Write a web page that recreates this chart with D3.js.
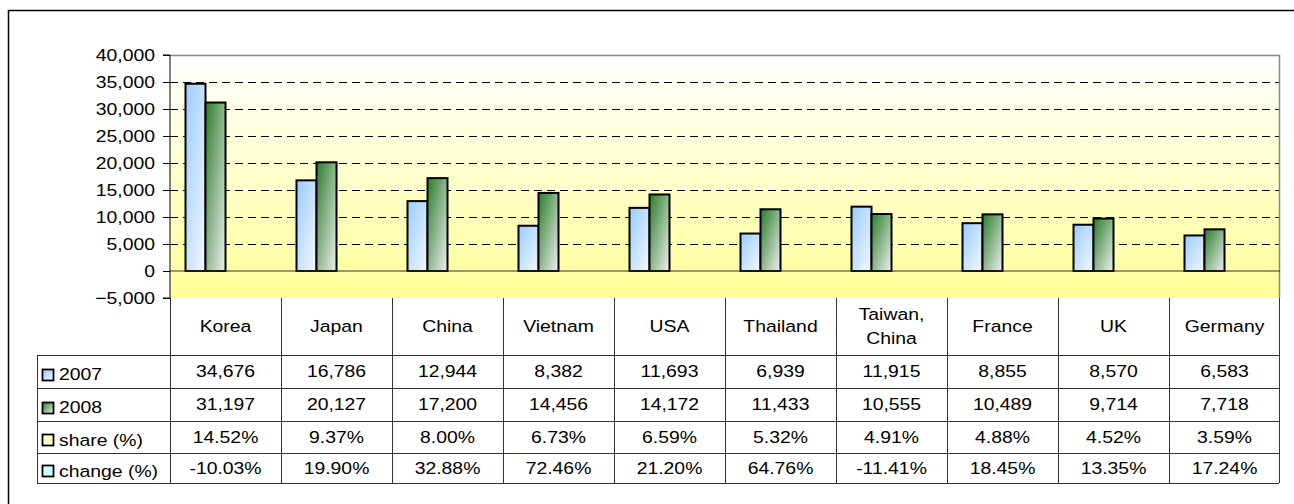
<!DOCTYPE html>
<html>
<head>
<meta charset="utf-8">
<script src="https://cdn.jsdelivr.net/npm/d3@7"></script>
<style>
  body { margin: 0; background: #fff; }
  text { font-family: Arial, "Liberation Sans", sans-serif; fill: #000; }
</style>
</head>
<body>
<div id="chart"></div>
<script>
// ---- data ----
const countries = ["Korea", "Japan", "China", "Vietnam", "USA", "Thailand", "Taiwan,\nChina", "France", "UK", "Germany"];
const v2007 = [34676, 16786, 12944, 8382, 11693, 6939, 11915, 8855, 8570, 6583];
const v2008 = [31197, 20127, 17200, 14456, 14172, 11433, 10555, 10489, 9714, 7718];
const share = [14.52, 9.37, 8.00, 6.73, 6.59, 5.32, 4.91, 4.88, 4.52, 3.59];
const change = [-10.03, 19.90, 32.88, 72.46, 21.20, 64.76, -11.41, 18.45, 13.35, 17.24];
const seriesNames = ["2007", "2008", "share (%)", "change (%)"];
const yTicks = [-5000, 0, 5000, 10000, 15000, 20000, 25000, 30000, 35000, 40000];

const W = 1294, H = 504;
const pLeft = 170, pRight = 1280, pTop = 55, pBottom = 298;
const rowY = [298, 355, 388, 421, 453, 483];
const legendLeft = 37;
const FS = 17, SX = 1.14; // picture is a bit stretched sideways

const svg = d3.select("#chart").append("svg").attr("width", W).attr("height", H);
const defs = svg.append("defs");

// gradients
const bgGrad = defs.append("linearGradient").attr("id", "bg").attr("x1", 0).attr("y1", 0).attr("x2", 0).attr("y2", 1);
bgGrad.append("stop").attr("offset", "0%").attr("stop-color", "#ffffff");
bgGrad.append("stop").attr("offset", "100%").attr("stop-color", "#ffff99");

function diag(id, c1, c2) {
  const g = defs.append("linearGradient").attr("id", id).attr("x1", 0).attr("y1", 0).attr("x2", 1).attr("y2", 1);
  g.append("stop").attr("offset", "0%").attr("stop-color", c1);
  g.append("stop").attr("offset", "100%").attr("stop-color", c2);
}
diag("g2007", "#99ccff", "#f4f8ff");
diag("g2008", "#2a7d2a", "#f0f0f0");
const fills = ["url(#g2007)", "url(#g2008)", "#ffffcc", "#ccffff"];

// scales
const x = d3.scaleBand().domain(countries).range([pLeft, pRight]);
const xs = d3.scaleBand().domain(seriesNames).range([0, 80]);
const y = d3.scaleLinear().domain([-5000, 40000]).range([pBottom, pTop]);

// outer frame
svg.append("path").attr("d", `M8.5,${H}V10.5H${W}`).attr("fill", "none").attr("stroke", "#000").attr("stroke-width", 1.5);

// plot background
svg.append("rect").attr("x", pLeft).attr("y", pTop).attr("width", pRight - pLeft).attr("height", pBottom - pTop).attr("fill", "url(#bg)");

// gridlines
svg.append("g").selectAll("line").data(yTicks.filter(t => t > 0)).join("line")
  .attr("x1", pLeft).attr("x2", pRight)
  .attr("y1", d => Math.round(y(d)) + 0.5).attr("y2", d => Math.round(y(d)) + 0.5)
  .attr("stroke", "#000").attr("stroke-dasharray", "8,5");

// plot border (top & right)
svg.append("path").attr("d", `M${pLeft},${pTop + 0.5}H${pRight - 0.5}V${pBottom}`).attr("fill", "none").attr("stroke", "#888").attr("stroke-width", 1.5);

// bars
const allSeries = [v2007, v2008, share, change];
const barG = svg.append("g");
countries.forEach((c, i) => {
  allSeries.forEach((vals, s) => {
    const v = vals[i];
    if (Math.abs(y(v) - y(0)) < 1) return; // too small to show
    barG.append("rect")
      .attr("x", x(c) + (x.bandwidth() - 80) / 2 + xs(seriesNames[s]))
      .attr("y", Math.min(y(v), y(0)))
      .attr("width", xs.bandwidth())
      .attr("height", Math.abs(y(v) - y(0)))
      .attr("fill", fills[s]).attr("stroke", "#000").attr("stroke-width", 2);
  });
});

// zero line
svg.append("line").attr("x1", pLeft).attr("x2", pRight).attr("y1", y(0)).attr("y2", y(0)).attr("stroke", "#333").attr("stroke-width", 1);

// y axis
const yAxis = d3.axisLeft(y).tickValues(yTicks).tickFormat(d3.format(",")).tickSize(7).tickPadding(0);
const ya = svg.append("g").attr("transform", `translate(${pLeft},0)`).call(yAxis);
ya.select(".domain").attr("stroke", "#000").attr("d", `M-7,${pTop}H0V${pBottom}H-7`);
ya.selectAll(".tick line").attr("stroke", "#000");
ya.selectAll(".tick text").remove();
ya.selectAll(".tick").append("text")
  .attr("transform", `translate(-15,0) scale(${SX},1)`)
  .attr("text-anchor", "end").attr("dy", "0.35em")
  .style("font-size", FS + "px").style("fill", "#000")
  .text(d => d3.format(",")(d));

// ---- data table ----
const tbl = svg.append("g");
const lineC = "#333";
// vertical lines between categories
const edges = countries.map(c => x(c)).concat([pRight - 1]);
tbl.selectAll("line.v").data(edges).join("line").attr("class", "v")
  .attr("x1", d => Math.round(d) + 0.5).attr("x2", d => Math.round(d) + 0.5)
  .attr("y1", pBottom).attr("y2", rowY[5])
  .attr("stroke", lineC);
// horizontal lines
tbl.selectAll("line.h").data(rowY.slice(1)).join("line").attr("class", "h")
  .attr("x1", legendLeft).attr("x2", pRight - 1)
  .attr("y1", d => d + 0.5).attr("y2", d => d + 0.5)
  .attr("stroke", lineC);
tbl.append("line").attr("x1", legendLeft + 0.5).attr("x2", legendLeft + 0.5)
  .attr("y1", rowY[1]).attr("y2", rowY[5]).attr("stroke", lineC);

// header labels
countries.forEach(c => {
  const lines = c.split("\n");
  const cx = x(c) + x.bandwidth() / 2;
  const cy = (rowY[0] + rowY[1]) / 2;
  lines.forEach((t, k) => {
    tbl.append("text")
      .attr("transform", `translate(${cx},${cy + (k - (lines.length - 1) / 2) * 24}) scale(${SX},1)`)
      .attr("text-anchor", "middle").attr("dy", "0.35em")
      .style("font-size", FS + "px").text(t);
  });
});

// value rows
const fmtInt = d3.format(",");
const fmtPct = d => d.toFixed(2) + "%";
const rowFmt = [fmtInt, fmtInt, fmtPct, fmtPct];
allSeries.forEach((vals, s) => {
  const cy = (rowY[s + 1] + rowY[s + 2]) / 2;
  // legend key
  tbl.append("rect").attr("x", 42.5).attr("y", Math.round(cy - 3) + 0.5).attr("width", 11).attr("height", 11)
    .attr("fill", fills[s]).attr("stroke", "#000").attr("stroke-width", 1.8);
  tbl.append("text")
    .attr("transform", `translate(59,${cy + 3}) scale(${SX},1)`)
    .attr("dy", "0.35em").style("font-size", FS + "px").text(seriesNames[s]);
  vals.forEach((v, i) => {
    tbl.append("text")
      .attr("transform", `translate(${x(countries[i]) + x.bandwidth() / 2},${cy}) scale(${SX},1)`)
      .attr("text-anchor", "middle").attr("dy", "0.35em")
      .style("font-size", FS + "px").text(rowFmt[s](v));
  });
});
</script>
</body>
</html>
